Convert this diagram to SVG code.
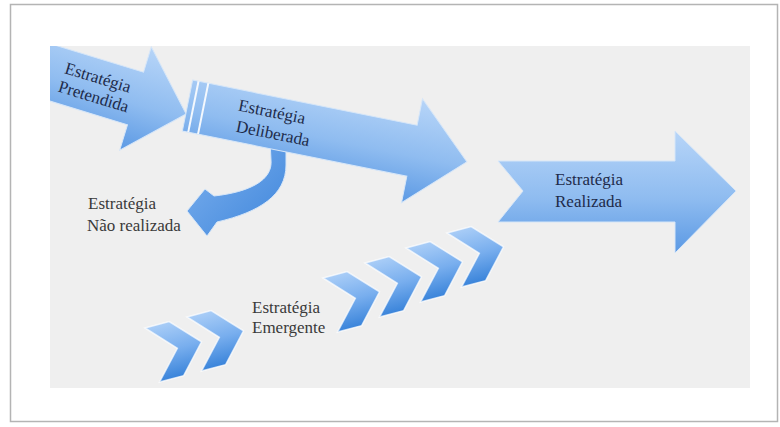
<svg xmlns="http://www.w3.org/2000/svg" width="780" height="427" viewBox="0 0 780 427">
  <defs>
    <linearGradient id="gArrow" x1="0" y1="0" x2="0" y2="1">
      <stop offset="0" stop-color="#b7d5f8"/>
      <stop offset="0.55" stop-color="#8fbcf0"/>
      <stop offset="1" stop-color="#5b99e4"/>
    </linearGradient>
    <linearGradient id="gChev" x1="0" y1="0" x2="0" y2="1">
      <stop offset="0" stop-color="#a9cdf7"/>
      <stop offset="0.5" stop-color="#78aeee"/>
      <stop offset="1" stop-color="#3a84da"/>
    </linearGradient>
    <linearGradient id="gCurve" x1="0" y1="0" x2="1" y2="1">
      <stop offset="0" stop-color="#7fb2ef"/>
      <stop offset="1" stop-color="#3f86db"/>
    </linearGradient>
    <clipPath id="panelClip">
      <rect x="50" y="46" width="700" height="342"/>
    </clipPath>
    <path id="chev" d="M0,0 L25,0 L51,28 L25,56 L0,56 L26,28 Z"/>
  </defs>
  <style>
    .dark { font-family: "Liberation Serif", "DejaVu Serif", serif; font-size: 17px; fill: #1e2b4a; }
    .plain { font-family: "Liberation Serif", "DejaVu Serif", serif; font-size: 17px; fill: #3a3a3a; }
    .arrow { fill: url(#gArrow); stroke: #d6e6f8; stroke-width: 1; }
    .chevron { fill: url(#gChev); stroke: #ffffff; stroke-opacity: 0.7; stroke-width: 1.5; }
  </style>

  <rect x="0" y="0" width="780" height="427" fill="#ffffff"/>
  <rect x="10.5" y="4.5" width="767" height="417" fill="#ffffff" stroke="#b4b4b4" stroke-width="1.5"/>
  <rect id="panel" x="50" y="46" width="700" height="342" fill="#efefef"/>

  <g id="connectors"></g>

  <g id="arrow-pretendida" clip-path="url(#panelClip)">
    <g transform="translate(135.5,98.5) rotate(17)">
      <path class="arrow" d="M-140,-27.5 L0,-27.5 L0,-54 L53,0 L0,54 L0,27.5 L-140,27.5 Z"/>
      <text class="dark" x="-76" y="-3.5">Estratégia</text>
      <text class="dark" x="-77" y="16">Pretendida</text>
    </g>
  </g>

  <g id="arrow-nao-realizada">
    <path d="M270,140 L286,140 L286,165 C286,195 260,212 217,222 L207,236 L187,211 L205,189 L214,196 C250,192 273,180 271,160 Z" fill="url(#gCurve)" stroke="#d6e6f8" stroke-width="1"/>
    <text class="plain" x="88" y="209">Estratégia</text>
    <text class="plain" x="87" y="231">Não realizada</text>
  </g>

  <g id="arrow-deliberada" transform="translate(187.5,105.5) rotate(11.4)">
    <path class="arrow" d="M0,-26 L229,-26 L229,-53 L285,0 L229,53 L229,26 L0,26 Z"/>
    <line x1="6" y1="-26" x2="6" y2="26" stroke="#f4f8fd" stroke-width="2"/>
    <line x1="16" y1="-26" x2="16" y2="26" stroke="#f4f8fd" stroke-width="2"/>
    <text class="dark" x="50" y="-5">Estratégia</text>
    <text class="dark" x="52" y="16">Deliberada</text>
  </g>

  <g id="arrow-realizada">
    <path class="arrow" d="M498,161 L675,161 L675,131 L736,191 L675,253 L675,222 L498,222 L523,191 Z"/>
    <text class="dark" x="555" y="185">Estratégia</text>
    <text class="dark" x="555" y="207">Realizada</text>
  </g>

  <g id="emergente">
    <g id="chevron-1"><use href="#chev" class="chevron" transform="translate(145,328) rotate(-15)"/></g>
    <g id="chevron-2"><use href="#chev" class="chevron" transform="translate(187,317) rotate(-15)"/></g>
    <g id="chevron-3"><use href="#chev" class="chevron" transform="translate(323,278) rotate(-15)"/></g>
    <g id="chevron-4"><use href="#chev" class="chevron" transform="translate(365,263) rotate(-15)"/></g>
    <g id="chevron-5"><use href="#chev" class="chevron" transform="translate(406,248) rotate(-15)"/></g>
    <g id="chevron-6"><use href="#chev" class="chevron" transform="translate(447,233) rotate(-15)"/></g>
    <text class="plain" x="252" y="313">Estratégia</text>
    <text class="plain" x="252" y="333">Emergente</text>
  </g>
</svg>
